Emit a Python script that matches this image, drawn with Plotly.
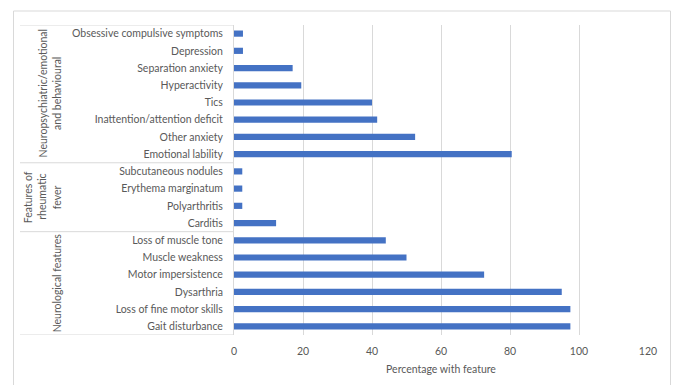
import plotly.graph_objects as go

# Clinical features, listed bottom-to-top as drawn on the category axis
features = [
    "Gait disturbance", "Loss of fine motor skills", "Dysarthria",
    "Motor impersistence", "Muscle weakness", "Loss of muscle tone",
    "Carditis", "Polyarthritis", "Erythema marginatum", "Subcutaneous nodules",
    "Emotional lability", "Other anxiety", "Inattention/attention deficit",
    "Tics", "Hyperactivity", "Separation anxiety", "Depression",
    "Obsessive compulsive symptoms",
]
percentages = [
    97.5, 97.5, 95.0, 72.5, 50.0, 44.0,
    12.2, 2.4, 2.4, 2.4,
    80.5, 52.5, 41.5, 40.0, 19.5, 17.0, 2.6, 2.6,
]
# Group captions, one list of text lines per group (bottom group first)
group_lines = [
    ["Neurological features"],
    ["Features of", "rheumatic", "fever"],
    ["Neuropsychiatric/emotional", "and behavioural"],
]
group_sizes = [6, 4, 8]
x_ticks = [0, 20, 40, 60, 80, 100, 120]

FONT = "Lato, 'Open Sans', sans-serif"
FS = 10.5
GREY = "#d9d9d9"
TEXT = "#595959"

fig = go.Figure(
    go.Bar(
        x=percentages,
        y=features,
        orientation="h",
        marker=dict(color="#4472C4", line=dict(width=0)),
        width=0.36,
    )
)

W, H = 675, 385
left, right, top, bottom = 234, 27, 25, 50
plot_w = W - left - right
plot_h = H - top - bottom


def px_to_paper_x(px):
    return (px - left) / plot_w


def px_to_paper_y(py):
    return (H - bottom - py) / plot_h


shapes = []
# Horizontal rules bounding each category group in the label column
edge = -0.5
rules = [edge]
for n in group_sizes:
    edge += n
    rules.append(edge)
for r in rules:
    shapes.append(dict(
        type="line", xref="paper", yref="y",
        x0=px_to_paper_x(20), x1=0, y0=r, y1=r,
        line=dict(color=GREY, width=1),
    ))

# Outer chart frame
shapes.append(dict(
    type="rect", xref="paper", yref="paper",
    x0=px_to_paper_x(13.5), x1=px_to_paper_x(670.5),
    y0=px_to_paper_y(400), y1=px_to_paper_y(11),
    line=dict(color=GREY, width=1), fillcolor="rgba(0,0,0,0)",
    layer="below",
))

# Rotated group captions: each line centred on its group's span,
# stacked leftwards from the label column
LINE_STEP = 14.5
LAST_LINE_X = 57
annotations = []
start = -0.5
for lines, n in zip(group_lines, group_sizes):
    mid = start + n / 2
    start += n
    count = len(lines)
    for i, line in enumerate(lines):
        xpx = LAST_LINE_X - (count - 1 - i) * LINE_STEP
        annotations.append(dict(
            text=line, xref="paper", yref="y",
            x=px_to_paper_x(xpx), y=mid,
            xanchor="center", yanchor="middle",
            textangle=-90, showarrow=False,
            font=dict(family=FONT, size=FS, color=TEXT),
        ))

fig.update_layout(
    width=W, height=H,
    margin=dict(l=left, r=right, t=top, b=bottom),
    paper_bgcolor="white", plot_bgcolor="white",
    showlegend=False,
    font=dict(family=FONT, size=FS, color=TEXT),
    xaxis=dict(
        range=[0, 120], tickvals=x_ticks,
        showgrid=True, gridcolor=GREY, gridwidth=1,
        zeroline=False, showline=False,
        ticks="", ticklabelstandoff=8,
        tickfont=dict(size=FS, color=TEXT),
        title=dict(text="Percentage with feature", standoff=10,
                   font=dict(size=FS, color=TEXT)),
    ),
    yaxis=dict(
        type="category", categoryorder="array", categoryarray=features,
        range=[-0.5, 17.5],
        showgrid=False, zeroline=False,
        showline=True, linecolor=GREY, linewidth=1,
        ticks="", ticklabelstandoff=8,
        tickfont=dict(size=FS, color=TEXT),
    ),
    shapes=shapes,
    annotations=annotations,
    bargap=0.64,
)

fig.write_html("out.html")
